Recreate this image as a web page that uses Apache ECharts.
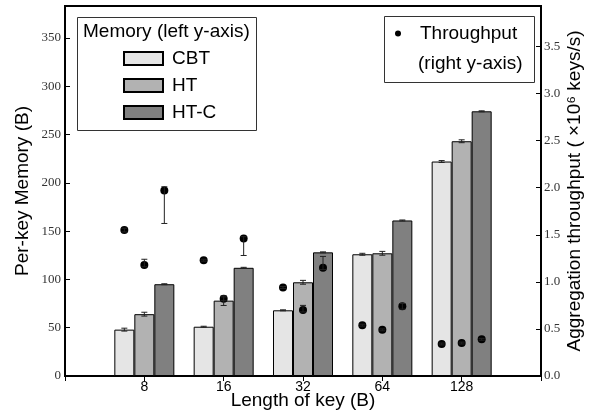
<!DOCTYPE html>
<html>
<head>
<meta charset="utf-8">
<script src="https://cdn.jsdelivr.net/npm/echarts@6/dist/echarts.min.js"></script>
<style>
  html, body { margin: 0; padding: 0; background: #fff; }
  #main { width: 597px; height: 414px; }
</style>
</head>
<body>
<div id="main"></div>
<script>
// key lengths (x axis)
var keyLengths = ['8', '16', '32', '64', '128'];

// per-key memory (B), left axis
var memCBT = [48, 51, 68, 126, 222];
var memHT = [64, 78, 97, 127, 243];
var memHTC = [95, 112, 128, 161, 274];
// memory error (+/-)
var memErrCBT = [1.5, 0.5, 0.5, 1, 1];
var memErrHT = [2, 5, 2, 2, 1.5];
var memErrHTC = [0.5, 0.5, 0.5, 0.5, 0.5];

// aggregation throughput (x10^6 keys/s), right axis
var thrCBT = [1.55, 1.23, 0.94, 0.54, 0.34];
var thrHT = [1.18, 0.82, 0.70, 0.49, 0.35];
var thrHTC = [1.97, 1.46, 1.15, 0.74, 0.39];
// throughput error range [low, high]
var thrErrCBT = [[1.53, 1.57], [1.22, 1.24], [0.93, 0.95], [0.53, 0.55], [0.33, 0.35]];
var thrErrHT = [[1.16, 1.24], [0.80, 0.84], [0.68, 0.75], [0.48, 0.50], [0.34, 0.36]];
var thrErrHTC = [[1.62, 2.01], [1.28, 1.48], [1.13, 1.27], [0.71, 0.77], [0.38, 0.40]];

var barW = 20;
var sans = 'Liberation Sans, Arial, sans-serif';
var serif = 'Liberation Serif, Times New Roman, serif';

// pad one empty slot on each side so the groups sit at 1..5 of 0..6
var cats = [''].concat(keyLengths).concat(['']);
function pad(arr) { return ['-'].concat(arr).concat(['-']); }

function memErrData(vals, errs) {
    return vals.map(function (v, i) { return [i + 1, v - errs[i], v + errs[i]]; });
}
function thrErrData(ranges) {
    return ranges.map(function (r, i) { return [i + 1, r[0], r[1]]; });
}

function errSeries(data, yIdx, offset) {
    return {
        type: 'custom',
        yAxisIndex: yIdx,
        z: 6,
        silent: true,
        encode: { x: 0, y: [1, 2] },
        data: data,
        renderItem: function (params, api) {
            var lo = api.coord([api.value(0), api.value(1)]);
            var hi = api.coord([api.value(0), api.value(2)]);
            var x = lo[0] + offset;
            var cap = 3;
            var st = { stroke: '#222', lineWidth: 1 };
            return {
                type: 'group',
                children: [
                    { type: 'line', shape: { x1: x, y1: lo[1], x2: x, y2: hi[1] }, style: st },
                    { type: 'line', shape: { x1: x - cap, y1: lo[1], x2: x + cap, y2: lo[1] }, style: st },
                    { type: 'line', shape: { x1: x - cap, y1: hi[1], x2: x + cap, y2: hi[1] }, style: st }
                ]
            };
        }
    };
}

function barSeries(name, vals, color) {
    return {
        name: name,
        type: 'bar',
        barWidth: barW,
        barGap: '0%',
        z: 2,
        itemStyle: { color: color, borderColor: '#000', borderWidth: 1 },
        data: pad(vals)
    };
}

function thrSeries(vals, offset) {
    return {
        name: 'Throughput',
        type: 'scatter',
        yAxisIndex: 1,
        symbol: 'circle',
        symbolSize: 8,
        symbolOffset: [offset, 0],
        z: 5,
        itemStyle: { color: '#000', opacity: 1 },
        data: pad(vals)
    };
}

var chart = echarts.init(document.getElementById('main'));

var option = {
    animation: false,
    grid: {
        left: 65, right: 56, top: 6, bottom: 38,
        containLabel: false,
        outerBoundsMode: 'none',
        show: true, borderColor: '#000', borderWidth: 2
    },
    xAxis: [
        {
            type: 'category',
            data: cats,
            boundaryGap: false,
            axisLine: { lineStyle: { color: '#000', width: 2 } },
            axisTick: { inside: true, length: 5, lineStyle: { color: '#000' } },
            axisLabel: { color: '#000', fontFamily: sans, fontSize: 14, margin: 4 },
            name: 'Length of key (B)',
            nameLocation: 'middle',
            nameGap: 15,
            nameMoveOverlap: false,
            nameTextStyle: { color: '#000', fontFamily: sans, fontSize: 19 }
        },
        {
            type: 'category',
            data: cats,
            boundaryGap: false,
            position: 'top',
            axisLine: { show: false },
            axisTick: { inside: true, length: 5, lineStyle: { color: '#000' } },
            axisLabel: { show: false }
        }
    ],
    yAxis: [
        {
            type: 'value',
            min: 0, max: 383, interval: 50,
            splitLine: { show: false },
            axisLine: { show: true, lineStyle: { color: '#000', width: 2 } },
            axisTick: { show: true, inside: true, length: 5, lineStyle: { color: '#000' } },
            axisLabel: { color: '#333', fontFamily: serif, fontSize: 13, margin: 4, showMaxLabel: false },
            name: 'Per-key Memory (B)',
            nameLocation: 'middle',
            nameGap: 33,
            nameMoveOverlap: false,
            nameTextStyle: { color: '#000', fontFamily: sans, fontSize: 19 }
        },
        {
            type: 'value',
            min: 0, max: 3.93, interval: 0.5,
            position: 'right',
            splitLine: { show: false },
            axisLine: { show: true, lineStyle: { color: '#000', width: 2 } },
            axisTick: { show: true, inside: true, length: 5, lineStyle: { color: '#000' } },
            axisLabel: {
                color: '#333', fontFamily: serif, fontSize: 13, margin: 3, showMaxLabel: false,
                formatter: function (v) { return v.toFixed(1); }
            },
            name: 'Aggregation throughput ( \u00d710\u2076 keys/s)',
            nameLocation: 'middle',
            nameGap: 24,
            nameRotate: 90,
            nameMoveOverlap: false,
            nameTextStyle: { color: '#000', fontFamily: sans, fontSize: 19 }
        }
    ],
    legend: [
        {
            data: [
                { name: 'CBT', icon: 'rect' },
                { name: 'HT', icon: 'rect' },
                { name: 'HT-C', icon: 'rect' }
            ],
            orient: 'vertical',
            left: 118, top: 44,
            itemWidth: 39, itemHeight: 13, itemGap: 8,
            textStyle: { color: '#000', fontFamily: sans, fontSize: 19, padding: [0, 0, 0, 4] }
        },
        {
            data: [{ name: 'Throughput', icon: 'circle' }],
            left: 390, top: 19,
            itemWidth: 6, itemHeight: 6,
            textStyle: { color: '#000', fontFamily: sans, fontSize: 19, padding: [0, 0, 0, 14] }
        }
    ],
    graphic: [
        { type: 'rect', left: 75, top: 15, shape: { width: 179, height: 113 },
          style: { fill: null, stroke: '#333', lineWidth: 1 } },
        { type: 'text', left: 83, top: 22,
          style: { text: 'Memory (left y-axis)', fill: '#000', font: '19px ' + sans } },
        { type: 'rect', left: 382, top: 14, shape: { width: 150, height: 66 },
          style: { fill: null, stroke: '#333', lineWidth: 1 } },
        { type: 'text', left: 418, top: 54,
          style: { text: '(right y-axis)', fill: '#000', font: '19px ' + sans } }
    ],
    series: [
        barSeries('CBT', memCBT, '#e5e5e5'),
        barSeries('HT', memHT, '#b2b2b2'),
        barSeries('HT-C', memHTC, '#808080'),
        errSeries(memErrData(memCBT, memErrCBT), 0, -barW),
        errSeries(memErrData(memHT, memErrHT), 0, 0),
        errSeries(memErrData(memHTC, memErrHTC), 0, barW),
        thrSeries(thrCBT, -barW),
        thrSeries(thrHT, 0),
        thrSeries(thrHTC, barW),
        errSeries(thrErrData(thrErrCBT), 1, -barW),
        errSeries(thrErrData(thrErrHT), 1, 0),
        errSeries(thrErrData(thrErrHTC), 1, barW)
    ]
};

chart.setOption(option);
</script>
</body>
</html>
